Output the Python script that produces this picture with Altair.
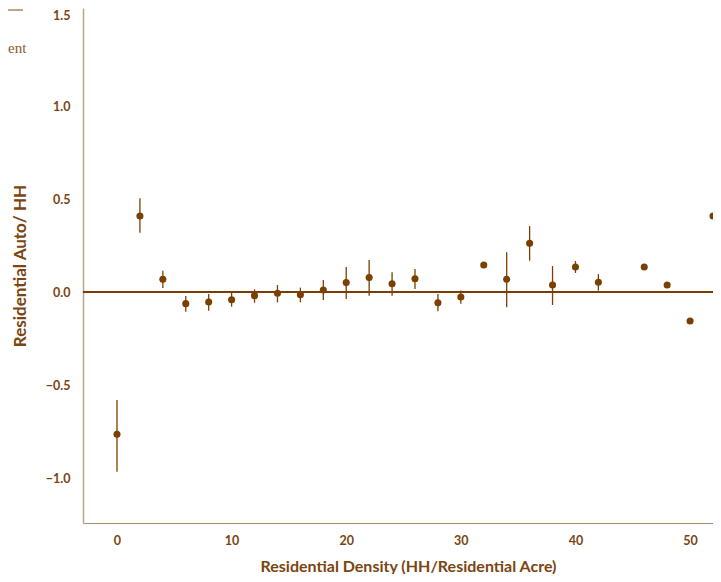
import altair as alt
import pandas as pd

# Data
density = [0, 2, 4, 6, 8, 10, 12, 14, 16, 18, 20, 22, 24, 26, 28, 30, 32, 34, 36, 38, 40, 42, 46, 48, 50, 52]
residual = [-0.763, 0.41, 0.07, -0.061, -0.052, -0.04, -0.018, -0.005, -0.013, 0.012, 0.052, 0.079,
            0.046, 0.073, -0.056, -0.025, 0.147, 0.07, 0.263, 0.039, 0.136, 0.054, 0.136, 0.039,
            -0.154, 0.41]
err_lo = [-0.964, 0.32, 0.023, -0.104, -0.099, -0.077, -0.056, -0.054, -0.054, -0.041, -0.036, -0.018,
          -0.018, 0.018, -0.102, -0.061, None, -0.081, 0.17, -0.068, 0.104, 0.009, None, None, None, None]
err_hi = [-0.579, 0.505, 0.116, -0.02, -0.009, -0.002, 0.016, 0.039, 0.025, 0.066, 0.136, 0.174,
          0.108, 0.125, -0.009, 0.009, None, 0.215, 0.356, 0.141, 0.168, 0.098, None, None, None, None]

x_ticks = [0, 10, 20, 30, 40, 50]
y_ticks = [-1.0, -0.5, 0.0, 0.5, 1.0, 1.5]

df = pd.DataFrame({"x": density, "y": residual, "lo": err_lo, "hi": err_hi})
df_err = df.dropna(subset=["lo", "hi"])

BROWN = "#7B3F00"
LABEL = "#7A4511"
TAN = "#C2A384"
FONT = "Lato"

xscale = alt.Scale(domain=[-2.966, 52], nice=False, zero=False)
yscale = alt.Scale(domain=[-1.24, 1.528], nice=False, zero=False)

xaxis = alt.Axis(values=x_ticks, format="d", ticks=False, grid=False, domainColor="#A88B6E",
                 labelFont=FONT, labelFontWeight="bold", labelFontSize=12.5, labelColor=LABEL,
                 labelPadding=11, title="Residential Density (HH/Residential Acre)",
                 titleFont=FONT, titleFontWeight="bold", titleFontSize=16, titleColor=LABEL,
                 titlePadding=12, titleX=325)
yaxis = alt.Axis(values=y_ticks, format=".1f", ticks=False, grid=False, domainColor=TAN,
                 domainWidth=1.5,
                 labelFont=FONT, labelFontWeight="bold", labelFontSize=12.5, labelColor=LABEL,
                 labelPadding=13,
                 labelOffset={"condition": {"test": "datum.value >= 1.5", "value": 2.5}, "value": 0},
                 title="Residential Auto/ HH",
                 titleFont=FONT, titleFontWeight="bold", titleFontSize=17, titleColor=LABEL,
                 titlePadding=16)

base = alt.Chart(df)

zero = alt.Chart(df).mark_rule(color=BROWN, strokeWidth=1).encode(
    y=alt.datum(0, scale=yscale, axis=yaxis)
)

bars = alt.Chart(df_err).mark_rule(color=BROWN, strokeWidth=1.3).encode(
    x=alt.X("x:Q", scale=xscale, axis=xaxis),
    y=alt.Y("lo:Q", scale=yscale, axis=yaxis),
    y2="hi:Q",
)

points = base.mark_circle(color=BROWN, opacity=1, size=50).encode(
    x=alt.X("x:Q", scale=xscale, axis=xaxis),
    y=alt.Y("y:Q", scale=yscale, axis=yaxis),
)

# fragment of a legend that is cut off at the left edge
legend_line = alt.Chart(df).mark_rule(color=TAN, strokeWidth=1.5).encode(
    x=alt.value(-83), x2=alt.value(-60), y=alt.value(2)
)
legend_text = alt.Chart(pd.DataFrame({"t": ["ent"]})).mark_text(
    font="Liberation Serif", fontSize=15, color="#8A5A2A", align="left", baseline="middle"
).encode(text="t:N", x=alt.value(-75), y=alt.value(40))

chart = alt.layer(zero, bars, points, legend_line, legend_text).properties(
    width=630, height=515,
    autosize=alt.AutoSizeParams(type="none"),
    padding={"left": 75, "top": 0, "right": 0, "bottom": 51},
).configure_view(stroke=None)

chart.save("out.html", embed_options={"renderer": "svg", "actions": False})
